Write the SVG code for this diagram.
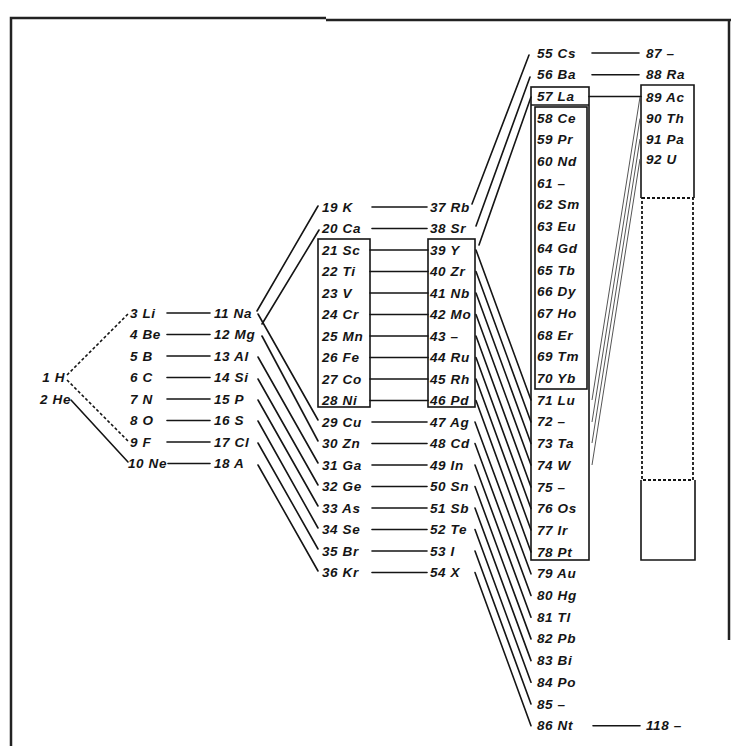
<svg xmlns="http://www.w3.org/2000/svg" width="731" height="746" viewBox="0 0 731 746">
<style>
.t{font-family:"Liberation Sans",Arial,sans-serif;font-size:13.5px;font-weight:bold;font-style:italic;fill:#151515;letter-spacing:0.6px}
.c{stroke:#151515;stroke-width:1.6;fill:none;stroke-linecap:round}
.d{stroke-dasharray:3 2.2;stroke-linecap:butt}
.b{fill:none;stroke:#151515;stroke-width:1.6}
.db{fill:none;stroke:#151515;stroke-width:1.8;stroke-dasharray:3 2}
.band{stroke:#555;stroke-width:1;fill:none}
.fr{stroke:#222;stroke-width:2.5;fill:none}
</style>
<rect width="731" height="746" fill="#fff"/>
<g id="frame">
<path class="fr" d="M11,746 V18 H326 M326,20 H731 M729,20 V640"/>
</g>
<g id="boxes">
<rect class="b" x="318" y="239" width="52" height="168"/>
<rect class="b" x="428" y="239" width="47" height="168"/>
<rect class="b" x="531" y="87" width="58" height="473"/>
<line class="b" x1="531" y1="105" x2="589" y2="105"/>
<rect class="b" x="535" y="107" width="52" height="282" stroke-width="2"/>
<path class="b" d="M641,198 V85 H694 V198"/>
<rect class="db" x="642" y="198" width="51" height="282"/>
<path class="b" d="M641,480 V560 H695 V480"/>
</g>
<g id="connectors">
<line class="c d" x1="67" y1="375" x2="128" y2="314"/>
<line class="c d" x1="67" y1="380" x2="128" y2="441"/>
<line class="c" x1="71" y1="400" x2="128" y2="462"/>
<line class="c" x1="167" y1="313" x2="210" y2="313"/>
<line class="c" x1="167" y1="334.5" x2="210" y2="334.5"/>
<line class="c" x1="167" y1="356" x2="210" y2="356"/>
<line class="c" x1="167" y1="377.5" x2="210" y2="377.5"/>
<line class="c" x1="167" y1="399" x2="210" y2="399"/>
<line class="c" x1="167" y1="420.5" x2="210" y2="420.5"/>
<line class="c" x1="167" y1="442" x2="210" y2="442"/>
<line class="c" x1="168" y1="463.5" x2="210" y2="463.5"/>
<line class="c" x1="257" y1="311" x2="318" y2="206"/>
<line class="c" x1="262" y1="324" x2="319" y2="230"/>
<line class="c" x1="258" y1="314" x2="318" y2="420"/>
<line class="c" x1="262" y1="336" x2="318" y2="441"/>
<line class="c" x1="258" y1="357" x2="318" y2="463"/>
<line class="c" x1="258" y1="379" x2="318" y2="485"/>
<line class="c" x1="258" y1="400" x2="318" y2="506"/>
<line class="c" x1="258" y1="421" x2="318" y2="528"/>
<line class="c" x1="258" y1="443" x2="318" y2="549"/>
<line class="c" x1="258" y1="465" x2="318" y2="571"/>
<line class="c" x1="372" y1="207" x2="427" y2="207"/>
<line class="c" x1="372" y1="228.5" x2="427" y2="228.5"/>
<line class="c" x1="370" y1="250" x2="428" y2="250"/>
<line class="c" x1="370" y1="271.5" x2="428" y2="271.5"/>
<line class="c" x1="370" y1="293" x2="428" y2="293"/>
<line class="c" x1="370" y1="314.5" x2="428" y2="314.5"/>
<line class="c" x1="370" y1="336" x2="428" y2="336"/>
<line class="c" x1="370" y1="357.5" x2="428" y2="357.5"/>
<line class="c" x1="370" y1="379" x2="428" y2="379"/>
<line class="c" x1="370" y1="400.5" x2="428" y2="400.5"/>
<line class="c" x1="372" y1="422" x2="427" y2="422"/>
<line class="c" x1="372" y1="443.5" x2="427" y2="443.5"/>
<line class="c" x1="372" y1="465" x2="427" y2="465"/>
<line class="c" x1="372" y1="486.5" x2="427" y2="486.5"/>
<line class="c" x1="372" y1="508" x2="427" y2="508"/>
<line class="c" x1="372" y1="529.5" x2="427" y2="529.5"/>
<line class="c" x1="372" y1="551" x2="427" y2="551"/>
<line class="c" x1="372" y1="572.5" x2="427" y2="572.5"/>
<line class="c" x1="472" y1="204" x2="529" y2="55"/>
<line class="c" x1="476" y1="226" x2="530" y2="77"/>
<line class="c" x1="479" y1="245" x2="531" y2="97"/>
<line class="c" x1="476" y1="250" x2="531" y2="400"/>
<line class="c" x1="476" y1="271.5" x2="531" y2="422"/>
<line class="c" x1="476" y1="293" x2="531" y2="443.5"/>
<line class="c" x1="476" y1="314.5" x2="531" y2="465"/>
<line class="c" x1="476" y1="336" x2="531" y2="487"/>
<line class="c" x1="476" y1="357.5" x2="531" y2="508.5"/>
<line class="c" x1="476" y1="379" x2="531" y2="530"/>
<line class="c" x1="476" y1="400.5" x2="531" y2="552"/>
<line class="c" x1="475" y1="422" x2="531" y2="573.8"/>
<line class="c" x1="475" y1="443.5" x2="531" y2="595.5"/>
<line class="c" x1="475" y1="465" x2="531" y2="617.2"/>
<line class="c" x1="475" y1="486.5" x2="531" y2="638.9"/>
<line class="c" x1="475" y1="508" x2="531" y2="660.6"/>
<line class="c" x1="475" y1="529.5" x2="531" y2="682.3"/>
<line class="c" x1="475" y1="551" x2="531" y2="704"/>
<line class="c" x1="475" y1="572.5" x2="531" y2="725.7"/>
<line class="c" x1="592" y1="53" x2="639" y2="53"/>
<line class="c" x1="592" y1="74.7" x2="639" y2="74.7"/>
<line class="c" x1="589" y1="96.5" x2="641" y2="96.5"/>
<line class="c" x1="593" y1="725.7" x2="640" y2="725.7"/>
<line class="band" x1="640" y1="97" x2="592" y2="400"/>
<line class="band" x1="640" y1="118.5" x2="592" y2="422"/>
<line class="band" x1="640" y1="139" x2="592" y2="443"/>
<line class="band" x1="640" y1="159" x2="592" y2="465"/>
</g>
<g id="e1"><text class="t" x="65" y="382" text-anchor="end">1 H</text></g>
<g id="e2"><text class="t" x="71" y="403.5" text-anchor="end">2 He</text></g>
<g id="e3"><text class="t" x="130" y="317.5">3 Li</text></g>
<g id="e4"><text class="t" x="130" y="339">4 Be</text></g>
<g id="e5"><text class="t" x="130" y="360.5">5 B</text></g>
<g id="e6"><text class="t" x="130" y="382">6 C</text></g>
<g id="e7"><text class="t" x="130" y="403.5">7 N</text></g>
<g id="e8"><text class="t" x="130" y="425">8 O</text></g>
<g id="e9"><text class="t" x="130" y="446.5">9 F</text></g>
<g id="e10"><text class="t" x="128" y="468">10 Ne</text></g>
<g id="e11"><text class="t" x="214" y="317.5">11 Na</text></g>
<g id="e12"><text class="t" x="214" y="339">12 Mg</text></g>
<g id="e13"><text class="t" x="214" y="360.5">13 Al</text></g>
<g id="e14"><text class="t" x="214" y="382">14 Si</text></g>
<g id="e15"><text class="t" x="214" y="403.5">15 P</text></g>
<g id="e16"><text class="t" x="214" y="425">16 S</text></g>
<g id="e17"><text class="t" x="214" y="446.5">17 Cl</text></g>
<g id="e18"><text class="t" x="214" y="468">18 A</text></g>
<g id="e19"><text class="t" x="322" y="211.5">19 K</text></g>
<g id="e20"><text class="t" x="322" y="233">20 Ca</text></g>
<g id="e21"><text class="t" x="322" y="254.5">21 Sc</text></g>
<g id="e22"><text class="t" x="322" y="276">22 Ti</text></g>
<g id="e23"><text class="t" x="322" y="297.5">23 V</text></g>
<g id="e24"><text class="t" x="322" y="319">24 Cr</text></g>
<g id="e25"><text class="t" x="322" y="340.5">25 Mn</text></g>
<g id="e26"><text class="t" x="322" y="362">26 Fe</text></g>
<g id="e27"><text class="t" x="322" y="383.5">27 Co</text></g>
<g id="e28"><text class="t" x="322" y="405">28 Ni</text></g>
<g id="e29"><text class="t" x="322" y="426.5">29 Cu</text></g>
<g id="e30"><text class="t" x="322" y="448">30 Zn</text></g>
<g id="e31"><text class="t" x="322" y="469.5">31 Ga</text></g>
<g id="e32"><text class="t" x="322" y="491">32 Ge</text></g>
<g id="e33"><text class="t" x="322" y="512.5">33 As</text></g>
<g id="e34"><text class="t" x="322" y="534">34 Se</text></g>
<g id="e35"><text class="t" x="322" y="555.5">35 Br</text></g>
<g id="e36"><text class="t" x="322" y="577">36 Kr</text></g>
<g id="e37"><text class="t" x="430" y="211.5">37 Rb</text></g>
<g id="e38"><text class="t" x="430" y="233">38 Sr</text></g>
<g id="e39"><text class="t" x="430" y="254.5">39 Y</text></g>
<g id="e40"><text class="t" x="430" y="276">40 Zr</text></g>
<g id="e41"><text class="t" x="430" y="297.5">41 Nb</text></g>
<g id="e42"><text class="t" x="430" y="319">42 Mo</text></g>
<g id="e43"><text class="t" x="430" y="340.5">43 –</text></g>
<g id="e44"><text class="t" x="430" y="362">44 Ru</text></g>
<g id="e45"><text class="t" x="430" y="383.5">45 Rh</text></g>
<g id="e46"><text class="t" x="430" y="405">46 Pd</text></g>
<g id="e47"><text class="t" x="430" y="426.5">47 Ag</text></g>
<g id="e48"><text class="t" x="430" y="448">48 Cd</text></g>
<g id="e49"><text class="t" x="430" y="469.5">49 In</text></g>
<g id="e50"><text class="t" x="430" y="491">50 Sn</text></g>
<g id="e51"><text class="t" x="430" y="512.5">51 Sb</text></g>
<g id="e52"><text class="t" x="430" y="534">52 Te</text></g>
<g id="e53"><text class="t" x="430" y="555.5">53 I</text></g>
<g id="e54"><text class="t" x="430" y="577">54 X</text></g>
<g id="e55"><text class="t" x="537" y="57.5">55 Cs</text></g>
<g id="e56"><text class="t" x="537" y="79.2">56 Ba</text></g>
<g id="e57"><text class="t" x="537" y="100.9">57 La</text></g>
<g id="e58"><text class="t" x="537" y="122.6">58 Ce</text></g>
<g id="e59"><text class="t" x="537" y="144.3">59 Pr</text></g>
<g id="e60"><text class="t" x="537" y="166">60 Nd</text></g>
<g id="e61"><text class="t" x="537" y="187.7">61 –</text></g>
<g id="e62"><text class="t" x="537" y="209.4">62 Sm</text></g>
<g id="e63"><text class="t" x="537" y="231.1">63 Eu</text></g>
<g id="e64"><text class="t" x="537" y="252.8">64 Gd</text></g>
<g id="e65"><text class="t" x="537" y="274.5">65 Tb</text></g>
<g id="e66"><text class="t" x="537" y="296.2">66 Dy</text></g>
<g id="e67"><text class="t" x="537" y="317.9">67 Ho</text></g>
<g id="e68"><text class="t" x="537" y="339.6">68 Er</text></g>
<g id="e69"><text class="t" x="537" y="361.3">69 Tm</text></g>
<g id="e70"><text class="t" x="537" y="383">70 Yb</text></g>
<g id="e71"><text class="t" x="537" y="404.7">71 Lu</text></g>
<g id="e72"><text class="t" x="537" y="426.4">72 –</text></g>
<g id="e73"><text class="t" x="537" y="448.1">73 Ta</text></g>
<g id="e74"><text class="t" x="537" y="469.8">74 W</text></g>
<g id="e75"><text class="t" x="537" y="491.5">75 –</text></g>
<g id="e76"><text class="t" x="537" y="513.2">76 Os</text></g>
<g id="e77"><text class="t" x="537" y="534.9">77 Ir</text></g>
<g id="e78"><text class="t" x="537" y="556.6">78 Pt</text></g>
<g id="e79"><text class="t" x="537" y="578.3">79 Au</text></g>
<g id="e80"><text class="t" x="537" y="600">80 Hg</text></g>
<g id="e81"><text class="t" x="537" y="621.7">81 Tl</text></g>
<g id="e82"><text class="t" x="537" y="643.4">82 Pb</text></g>
<g id="e83"><text class="t" x="537" y="665.1">83 Bi</text></g>
<g id="e84"><text class="t" x="537" y="686.8">84 Po</text></g>
<g id="e85"><text class="t" x="537" y="708.5">85 –</text></g>
<g id="e86"><text class="t" x="537" y="730.2">86 Nt</text></g>
<g id="e87"><text class="t" x="646" y="57.5">87 –</text></g>
<g id="e88"><text class="t" x="646" y="79.2">88 Ra</text></g>
<g id="e89"><text class="t" x="646" y="101.5">89 Ac</text></g>
<g id="e90"><text class="t" x="646" y="123">90 Th</text></g>
<g id="e91"><text class="t" x="646" y="143.5">91 Pa</text></g>
<g id="e92"><text class="t" x="646" y="163.5">92 U</text></g>
<g id="e118"><text class="t" x="646" y="730.2">118 –</text></g>
</svg>
